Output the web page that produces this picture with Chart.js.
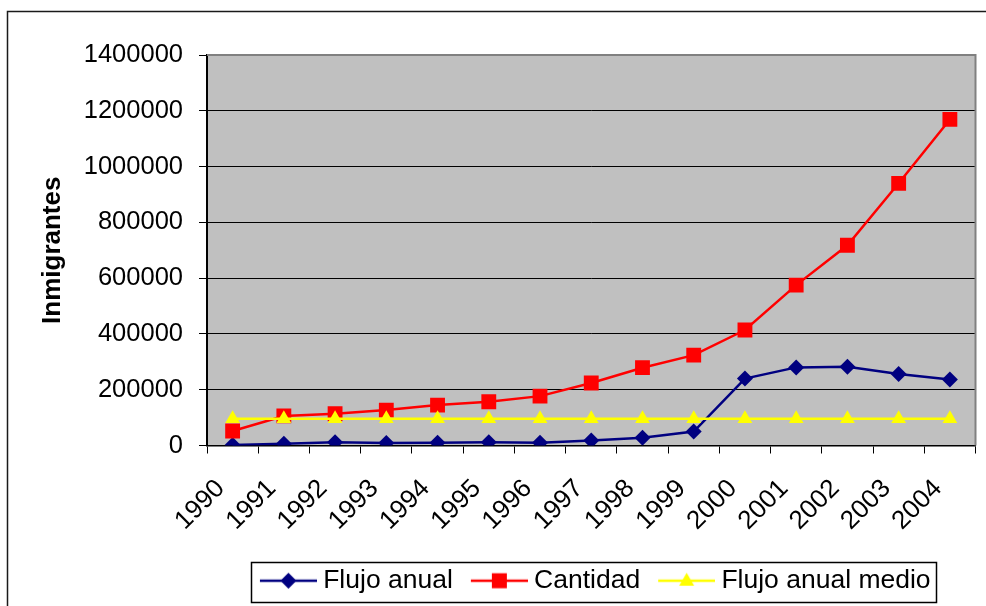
<!DOCTYPE html>
<html>
<head>
<meta charset="utf-8">
<script src="https://cdn.jsdelivr.net/npm/chart.js@4"></script>
<style>
  html, body { margin: 0; padding: 0; background: #fff; }
  canvas { display: block; }
</style>
</head>
<body>
<canvas id="miGrafico" width="986" height="606"></canvas>
<script>
const anios = ['1990', '1991', '1992', '1993', '1994', '1995', '1996', '1997',
    '1998', '1999', '2000', '2001', '2002', '2003', '2004'];
const flujoAnual = [2000, 6000, 12000, 9000, 10000, 12000, 10000, 18000,
    28000, 50000, 240000, 280000, 282000, 256000, 237000];
const cantidad = [52000, 106000, 114000, 127000, 145000, 157000, 177000, 224000,
    279000, 324000, 414000, 575000, 718000, 940000, 1169000];
const flujoMedio = [96000, 96000, 96000, 96000, 96000, 96000, 96000, 96000,
    96000, 96000, 96000, 96000, 96000, 96000, 96000];
const marcasY = [0, 200000, 400000, 600000, 800000, 1000000, 1200000, 1400000];

const fuente = "'Liberation Sans', Arial, sans-serif";

// icono de leyenda: linea con la marca en medio
function iconoLeyenda(color, forma) {
    const c = document.createElement('canvas');
    c.width = 72;
    c.height = 22;
    const g = c.getContext('2d');
    g.strokeStyle = color;
    g.lineWidth = 2.5;
    g.beginPath();
    g.moveTo(15, 11);
    g.lineTo(72, 11);
    g.stroke();
    g.fillStyle = color;
    const cx = 43.5, cy = 11;
    g.beginPath();
    if (forma === 'diamante') {
        g.moveTo(cx, cy - 8); g.lineTo(cx + 8, cy); g.lineTo(cx, cy + 8); g.lineTo(cx - 8, cy);
    } else if (forma === 'cuadro') {
        g.rect(cx - 7.5, cy - 7.5, 15, 15);
    } else {
        g.moveTo(cx, cy - 8); g.lineTo(cx + 7.5, cy + 5); g.lineTo(cx - 7.5, cy + 5);
    }
    g.closePath();
    g.fill();
    return c;
}

const iconos = [
    iconoLeyenda('#000080', 'diamante'),
    iconoLeyenda('#FF0000', 'cuadro'),
    iconoLeyenda('#FFFF00', 'triangulo')
];

const fondoPlot = {
    id: 'fondoPlot',
    beforeDraw(chart) {
        const {ctx, chartArea: a} = chart;
        ctx.save();
        ctx.fillStyle = '#C0C0C0';
        ctx.fillRect(a.left, a.top, a.right - a.left, a.bottom - a.top);
        // marco exterior
        ctx.strokeStyle = '#1a1a1a';
        ctx.lineWidth = 1.5;
        ctx.beginPath();
        ctx.moveTo(7.5, 606);
        ctx.lineTo(7.5, 11.5);
        ctx.lineTo(986, 11.5);
        ctx.stroke();
        ctx.restore();
    },
    beforeDatasetsDraw(chart) {
        const {ctx, chartArea: a} = chart;
        ctx.save();
        ctx.strokeStyle = '#808080';
        ctx.lineWidth = 2;
        ctx.beginPath();
        ctx.moveTo(a.left, a.top);
        ctx.lineTo(a.right, a.top);
        ctx.lineTo(a.right, a.bottom);
        ctx.stroke();
        ctx.restore();
    },
    afterDraw(chart) {
        const lg = chart.legend;
        if (!lg || !lg.legendHitBoxes || !lg.legendHitBoxes.length) return;
        const cajas = lg.legendHitBoxes;
        const x0 = cajas[0].left - 1;
        const x1 = cajas[cajas.length - 1].left + cajas[cajas.length - 1].width + 5;
        const ctx = chart.ctx;
        ctx.save();
        ctx.strokeStyle = '#000';
        ctx.lineWidth = 1.5;
        ctx.strokeRect(Math.round(x0) + 0.5, Math.round(lg.top + 4) + 0.5, Math.round(x1 - x0), 40);
        ctx.restore();
    }
};

const contenedor = document.getElementById('miGrafico');
const miGrafico = new Chart(contenedor, {
    type: 'line',
    data: {
        labels: anios,
        datasets: [{
            label: 'Flujo anual',
            data: flujoAnual,
            borderColor: '#000080',
            backgroundColor: '#000080',
            borderWidth: 2.5,
            pointStyle: 'rectRot',
            pointRadius: 8,
            pointBorderWidth: 0,
            order: 3
        }, {
            label: 'Cantidad',
            data: cantidad,
            borderColor: '#FF0000',
            backgroundColor: '#FF0000',
            borderWidth: 2.5,
            pointStyle: 'rect',
            pointRadius: 10.5,
            pointBorderWidth: 0,
            order: 2
        }, {
            label: 'Flujo anual medio',
            data: flujoMedio,
            borderColor: '#FFFF00',
            backgroundColor: '#FFFF00',
            borderWidth: 2.5,
            pointStyle: 'triangle',
            pointRadius: 8.5,
            pointBorderWidth: 0,
            order: 1
        }]
    },
    options: {
        responsive: false,
        animation: false,
        devicePixelRatio: 1,
        layout: { padding: { top: 55, left: 0, right: 9, bottom: 2 } },
        elements: { line: { tension: 0 } },
        plugins: {
            tooltip: { enabled: false },
            legend: {
                position: 'bottom',
                fullSize: false,
                labels: {
                    usePointStyle: true,
                    pointStyleWidth: 58,
                    padding: 10,
                    color: '#000',
                    font: { family: fuente, size: 26.5 },
                    sort: (a, b) => a.datasetIndex - b.datasetIndex,
                    generateLabels(chart) {
                        return chart.data.datasets.map((ds, i) => ({
                            text: ds.label,
                            datasetIndex: i,
                            pointStyle: iconos[i],
                            fillStyle: 'rgba(0,0,0,0)',
                            strokeStyle: 'rgba(0,0,0,0)',
                            lineWidth: 0,
                            fontColor: '#000',
                            hidden: false
                        }));
                    }
                }
            }
        },
        scales: {
            x: {
                offset: true,
                afterFit(scale) {
                    scale.height = 112;
                    scale.paddingLeft = 0;
                    scale.paddingRight = 0;
                },
                grid: {
                    offset: true,
                    drawOnChartArea: false,
                    drawTicks: true,
                    tickLength: 8,
                    color: '#000',
                    tickColor: '#000'
                },
                border: { display: true, color: '#000', width: 1.5 },
                ticks: {
                    autoSkip: false,
                    minRotation: 45,
                    maxRotation: 45,
                    padding: 20,
                    labelOffset: -12,
                    color: '#000',
                    font: { family: fuente, size: 26 }
                }
            },
            y: {
                min: 0,
                max: 1400000,
                afterFit(scale) { scale.width = 207; },
                afterBuildTicks(scale) { scale.ticks = marcasY.map(v => ({ value: v })); },
                grid: {
                    color: ctx => (ctx.tick && ctx.tick.value === 1400000) ? '#808080' : '#000',
                    lineWidth: 1,
                    tickLength: 8,
                    tickColor: '#000'
                },
                border: { display: true, color: '#000', width: 2 },
                ticks: {
                    padding: 16,
                    color: '#000',
                    font: { family: fuente, size: 25.5 },
                    callback: v => String(v)
                },
                title: {
                    display: true,
                    text: 'Inmigrantes',
                    color: '#000',
                    padding: { top: 37, bottom: 0 },
                    font: { family: fuente, size: 26, weight: 'bold' }
                }
            }
        }
    },
    plugins: [fondoPlot]
});
</script>
</body>
</html>
